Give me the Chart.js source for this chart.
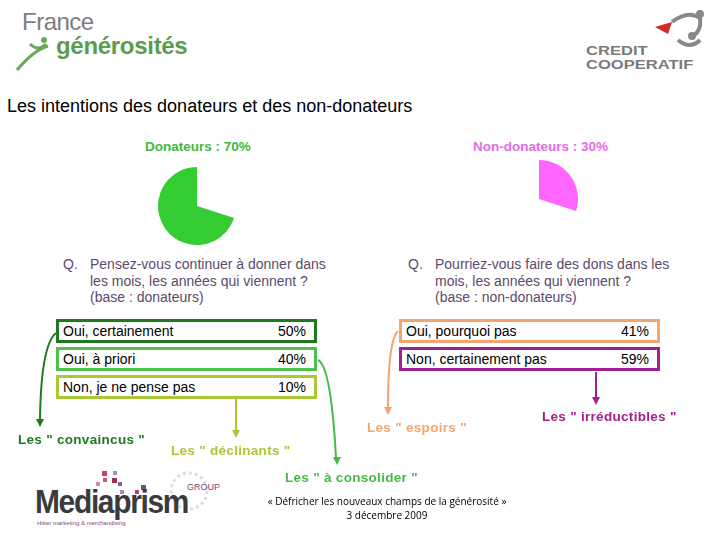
<!DOCTYPE html>
<html>
<head>
<meta charset="utf-8">
<script src="https://cdn.jsdelivr.net/npm/chart.js@4.4.0/dist/chart.umd.min.js"></script>
<style>
  body { margin: 0; background: #fff; }
  #slide { position: relative; width: 720px; height: 540px; overflow: hidden; font-family: "Liberation Sans", Arial, sans-serif; }
  .abs { position: absolute; white-space: nowrap; }
  .pie { position: absolute; width: 78px; height: 78px; }
  .title { left: 7px; top: 96px; font-size: 18px; color: #000; }
  .grp { font-size: 13.5px; font-weight: bold; top: 139px; }
  .q { font-size: 14px; color: #5c4a6c; line-height: 16.5px; }
  .q span { position: absolute; left: 0; top: 0; }
  .q div { margin-left: 27px; }
  .row { position: absolute; box-sizing: border-box; border: 3px solid; height: 24px; font-size: 14px; color: #000; }
  .row .lab { position: absolute; left: 4px; top: 1px; }
  .row .val { position: absolute; right: 8px; top: 1px; }
  .seg { font-size: 13.5px; font-weight: bold; letter-spacing: 0.3px; }
  .foot { font-family: "Open Sans", sans-serif; font-size: 10px; color: #000; text-align: center; line-height: 14px; }
  .cc { font-size: 12px; font-weight: bold; color: #7a7a7a; line-height: 14px; transform: scaleX(1.38); transform-origin: left top; }
</style>
</head>
<body>
<div id="slide">
  <!-- logos (approximation) -->
  <svg class="abs" style="left:0;top:0" width="720" height="540">
    <path d="M17 70 Q34 50 48 46" stroke="#6aa85a" stroke-width="3" fill="none"/>
    <path d="M30 44 Q38 52 46 44" stroke="#6aa85a" stroke-width="3" fill="none"/>
    <circle cx="44" cy="40" r="3" fill="#6aa85a"/>
    <path d="M655 27 L672 22 L668 34 Z" fill="#d42a2a"/>
    <path d="M672 22 Q688 10 700 18 Q702 32 690 38" stroke="#888" stroke-width="4" fill="none"/>
    <circle cx="700" cy="14" r="4" fill="#888"/>
    <path d="M678 40 Q690 50 700 40" stroke="#888" stroke-width="4" fill="none"/>
    <circle cx="692" cy="36" r="4" fill="#888"/>
    <g fill="#c04070">
      <rect x="102" y="471" width="5" height="5"/><rect x="103" y="478" width="4" height="4" fill="#d05080"/>
      <rect x="112" y="478" width="5" height="5" fill="#a03050"/><rect x="118" y="482" width="4" height="4" fill="#8060a0"/>
      <rect x="141" y="485" width="5" height="5" fill="#70508a"/><rect x="135" y="490" width="4" height="4" fill="#b04070"/>
      <rect x="120" y="490" width="4" height="4" fill="#a090c0"/><rect x="113" y="471" width="4" height="4" fill="#a090c0"/>
      <rect x="96" y="482" width="4" height="4" fill="#e080b0"/>
    </g>
    <circle cx="189" cy="491" r="18" fill="none" stroke="#ddd" stroke-width="3" stroke-dasharray="3 3"/>
  </svg>
  <div class="abs" style="left:22px;top:8px;font-size:24px;color:#7d7d7d;letter-spacing:-0.5px">France</div>
  <div class="abs" style="left:56px;top:32px;font-size:24px;font-weight:bold;color:#5c9c4e;letter-spacing:-0.3px">générosités</div>
  <div class="abs cc" style="left:586px;top:44px">CREDIT<br>COOPERATIF</div>
  <div class="abs" style="left:35px;top:482px;font-size:34px;font-weight:bold;color:#3a3a3a;letter-spacing:-1.5px;transform:scaleX(0.88);transform-origin:left">Mediaprism</div>
  <div class="abs" style="left:187px;top:482px;font-size:9px;color:#7a4a7a">GROUP</div>
  <div class="abs" style="left:37px;top:520px;font-size:6px;color:#7a4a7a">Hitter marketing &amp; merchandising</div>

  <div class="abs title">Les intentions des donateurs et des non-donateurs</div>
  <div id="grp0" class="abs grp" style="left:145px;color:#3dbb3d"></div>
  <div id="grp1" class="abs grp" style="left:473px;color:#e66ae6"></div>

  <div class="pie" style="left:158px;top:167px"><canvas id="pie0" width="78" height="78"></canvas></div>
  <div class="pie" style="left:500px;top:160px"><canvas id="pie1" width="78" height="78"></canvas></div>

  <div class="abs q" style="left:63px;top:256px"><span>Q.</span><div>Pensez-vous continuer à donner dans<br>les mois, les années qui viennent ?<br>(base : donateurs)</div></div>
  <div class="abs q" style="left:408px;top:256px"><span>Q.</span><div>Pourriez-vous faire des dons dans les<br>mois, les années qui viennent ?<br>(base : non-donateurs)</div></div>

  <div id="tables"></div>

  <svg class="abs" style="left:0;top:0" width="720" height="540" id="arrows"></svg>

  <div class="abs foot" style="left:237px;top:494px;width:300px">« Défricher les nouveaux champs de la générosité »<br>3 décembre 2009</div>
</div>

<script>
// Data
const groups = ["Donateurs", "Non-donateurs"];
const groupShares = [70, 30];
const groupColors = ["#33cc33", "#ff66ff"];

const donorAnswers = ["Oui, certainement", "Oui, à priori", "Non, je ne pense pas"];
const donorPcts = [50, 40, 10];
const donorColors = ["#1f7a1f", "#4cc24c", "#a9c934"];

const nonDonorAnswers = ["Oui, pourquoi pas", "Non, certainement pas"];
const nonDonorPcts = [41, 59];
const nonDonorColors = ["#f4a46e", "#a0228e"];

const segments = ['Les " convaincus "', 'Les " déclinants "', 'Les " à consolider  "', 'Les " espoirs "', 'Les " irréductibles "'];
const segmentColors = ["#1f7a1f", "#a9c934", "#44bb44", "#f4a46e", "#a0228e"];

// Group titles
groups.forEach((g, i) => {
  document.getElementById("grp" + i).textContent = g + " : " + groupShares[i] + "%";
});

// Pie charts: only the group's own slice is painted
function makePie(id, idx) {
  const share = groupShares[idx];
  // donors slice ends at the top (after the gap), non-donors slice starts at the top
  const data = idx === 0 ? [100 - share, share] : [share, 100 - share];
  const colors = idx === 0 ? ["rgba(0,0,0,0)", groupColors[0]] : [groupColors[1], "rgba(0,0,0,0)"];
  new Chart(document.getElementById(id), {
    type: "pie",
    data: {
      labels: idx === 0 ? ["Autres", groups[0]] : [groups[1], "Autres"],
      datasets: [{ data: data, backgroundColor: colors, borderWidth: 0, hoverOffset: 0 }],
    },
    options: {
      responsive: false,
      animation: false,
      events: [],
      layout: { padding: 0 },
      plugins: { legend: { display: false }, tooltip: { enabled: false } },
    },
  });
}
makePie("pie0", 0);
makePie("pie1", 1);

// Answer tables
const tables = document.getElementById("tables");
const rowTops = [319, 347, 375];
function addRows(answers, pcts, colors, left) {
  answers.forEach((a, i) => {
    const r = document.createElement("div");
    r.className = "row";
    r.style.left = left + "px";
    r.style.top = rowTops[i] + "px";
    r.style.width = "261px";
    r.style.borderColor = colors[i];
    r.innerHTML = '<span class="lab"></span><span class="val"></span>';
    r.querySelector(".lab").textContent = a;
    r.querySelector(".val").textContent = pcts[i] + "%";
    tables.appendChild(r);
  });
}
addRows(donorAnswers, donorPcts, donorColors, 56);
addRows(nonDonorAnswers, nonDonorPcts, nonDonorColors, 399);

// Segment labels
const segPos = [[18, 432], [171, 443], [285, 470], [367, 420], [542, 409]];
segments.forEach((s, i) => {
  const d = document.createElement("div");
  d.className = "abs seg";
  d.style.left = segPos[i][0] + "px";
  d.style.top = segPos[i][1] + "px";
  d.style.color = segmentColors[i];
  d.textContent = s;
  document.getElementById("slide").appendChild(d);
});

// Arrows
const arrowPaths = [
  ["M56 333 Q41 345 40 420", 40, 427],
  ["M236 399 L236 431", 236, 438],
  ["M318 360 Q331 366 336 458", 337, 465],
  ["M398 331 Q388 340 388 408", 388, 415],
  ["M596 372 L596 398", 596, 405],
];
const svg = document.getElementById("arrows");
arrowPaths.forEach((p, i) => {
  const c = segmentColors[i];
  const x = p[1], y = p[2];
  svg.innerHTML +=
    '<path d="' + p[0] + '" stroke="' + c + '" stroke-width="2" fill="none"/>' +
    '<path d="M' + (x - 4) + " " + (y - 8) + " L" + (x + 4) + " " + (y - 8) + " L" + x + " " + y + ' Z" fill="' + c + '"/>';
});
</script>
</body>
</html>
